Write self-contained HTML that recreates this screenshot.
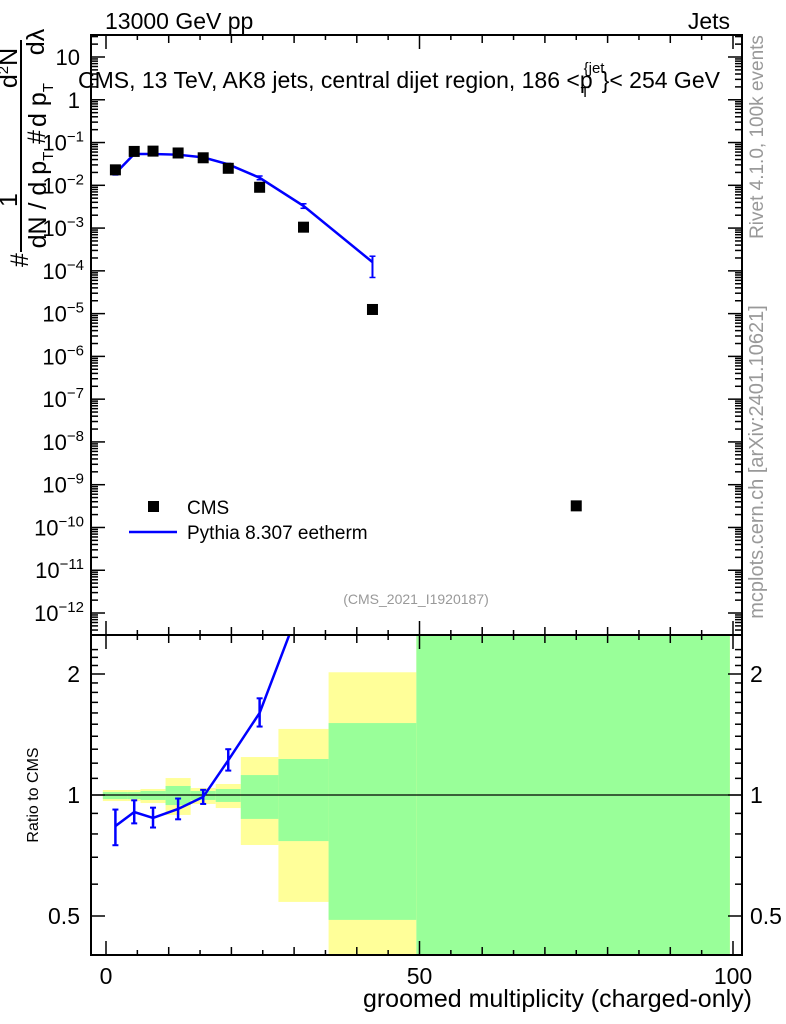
<!DOCTYPE html>
<html><head><meta charset="utf-8"><style>
html,body{margin:0;padding:0;background:#fff;}
svg{display:block;font-family:"Liberation Sans",sans-serif;}
</style></head><body>
<svg id="c" width="786" height="1024" viewBox="0 0 786 1024" xmlns="http://www.w3.org/2000/svg"></svg>
<script>
// ---- data ----
const binEdges = [-0.5, 3.5, 5.5, 9.5, 13.5, 17.5, 21.5, 27.5, 35.5, 49.5, 99.5];
const binCenters = [1.5, 4.5, 7.5, 11.5, 15.5, 19.5, 24.5, 31.5, 42.5, 75];
const cmsValues = [0.023, 0.062, 0.063, 0.057, 0.044, 0.025, 0.009, 0.00105, 1.25e-5, 3.2e-10];
const mcCenters = [1.5, 4.5, 7.5, 11.5, 15.5, 19.5, 24.5, 31.5, 42.5];
const mcValues = [0.019, 0.054, 0.054, 0.052, 0.045, 0.031, 0.015, 0.0033, 1.6e-4];
const mcErrLo = [0.0175, 0.052, 0.052, 0.050, 0.0435, 0.0295, 0.0135, 0.0029, 7e-5];
const mcErrHi = [0.0205, 0.056, 0.056, 0.054, 0.0465, 0.0325, 0.0165, 0.0037, 2.2e-4];
const ratioVals = [0.837, 0.907, 0.877, 0.923, 0.989, 1.22, 1.6, 3.1, 12.8];
const ratioErrLo = [0.75, 0.85, 0.83, 0.87, 0.95, 1.15, 1.48, 2.9, 7];
const ratioErrHi = [0.92, 0.97, 0.93, 0.98, 1.03, 1.30, 1.74, 3.4, 18];
const totLo = [0.966, 0.966, 0.955, 0.892, 0.95, 0.928, 0.751, 0.542, 0.40, 0.3];
const totHi = [1.029, 1.029, 1.035, 1.102, 1.041, 1.065, 1.243, 1.46, 2.02, 3];
const statLo = [0.977, 0.977, 0.972, 0.944, 0.972, 0.961, 0.872, 0.768, 0.489, 0.3];
const statHi = [1.017, 1.017, 1.023, 1.053, 1.023, 1.035, 1.121, 1.229, 1.51, 3];
const topTickExps = [1, 0, -1, -2, -3, -4, -5, -6, -7, -8, -9, -10, -11, -12];
const ratioMajor = [0.5, 1, 2];
const xMajorLabels = [0, 50, 100];

// ---- geometry ----
const L = 91, R = 742, T = 35, M = 635, B = 955;
const sx = v => 106 + v * 6.27;
const sy = v => 57 + (1 - Math.log10(v)) * 42.77;
const ry = v => 795 - Math.log2(v) * 121;
const NS = "http://www.w3.org/2000/svg";
const svg = document.getElementById('c');
function el(tag, attrs, parent) {
  const e = document.createElementNS(NS, tag);
  for (const k in attrs) e.setAttribute(k, attrs[k]);
  (parent || svg).appendChild(e);
  return e;
}
function clip(id, y0, y1) {
  const d = el('defs', {});
  const cp = el('clipPath', {id: id}, d);
  el('rect', {x: L, y: y0, width: R - L, height: y1 - y0}, cp);
}
clip('ct', T, M); clip('cb', M, B);

// ---- ratio bands ----
const gBands = el('g', {'clip-path': 'url(#cb)'});


for (let i = 0; i < binEdges.length - 1; i++) {
  const x0 = sx(binEdges[i]), x1 = sx(binEdges[i + 1]);
  const y = el('rect', {x: x0, y: ry(totHi[i]), width: x1 - x0, height: ry(totLo[i]) - ry(totHi[i]), fill: '#ffff99'}, gBands);
  
  
  const g = el('rect', {x: x0, y: ry(statHi[i]), width: x1 - x0, height: ry(statLo[i]) - ry(statHi[i]), fill: '#99ff99'}, gBands);
  
  
}
el('line', {x1: L, x2: R, y1: ry(1), y2: ry(1), stroke: '#000', 'stroke-width': 1.2});

// ---- ratio MC ----
const gR = el('g', {'clip-path': 'url(#cb)'});


el('polyline', {points: mcCenters.map((c, i) => sx(c) + ',' + ry(ratioVals[i])).join(' '), fill: 'none', stroke: '#0000ff', 'stroke-width': 2.5}, gR);
mcCenters.forEach((c, i) => {
  const x = sx(c);
  el('line', {x1: x, x2: x, y1: ry(ratioErrLo[i]), y2: ry(ratioErrHi[i]), stroke: '#0000ff', 'stroke-width': 2.5}, gR);
  el('line', {x1: x - 3, x2: x + 3, y1: ry(ratioErrLo[i]), y2: ry(ratioErrLo[i]), stroke: '#0000ff', 'stroke-width': 2}, gR);
  el('line', {x1: x - 3, x2: x + 3, y1: ry(ratioErrHi[i]), y2: ry(ratioErrHi[i]), stroke: '#0000ff', 'stroke-width': 2}, gR);
});

// ---- top panel ----
const gT = el('g', {'clip-path': 'url(#ct)'});


el('polyline', {points: mcCenters.map((c, i) => sx(c) + ',' + sy(mcValues[i])).join(' '), fill: 'none', stroke: '#0000ff', 'stroke-width': 2.5}, gT);
mcCenters.forEach((c, i) => {
  const x = sx(c);
  el('line', {x1: x, x2: x, y1: sy(mcErrLo[i]), y2: sy(mcErrHi[i]), stroke: '#0000ff', 'stroke-width': 2}, gT);
  el('line', {x1: x - 3, x2: x + 3, y1: sy(mcErrLo[i]), y2: sy(mcErrLo[i]), stroke: '#0000ff', 'stroke-width': 1.5}, gT);
  el('line', {x1: x - 3, x2: x + 3, y1: sy(mcErrHi[i]), y2: sy(mcErrHi[i]), stroke: '#0000ff', 'stroke-width': 1.5}, gT);
});
const gD = el('g', {});


binCenters.forEach((c, i) => {
  const m = el('rect', {x: sx(c) - 5.5, y: sy(cmsValues[i]) - 5.5, width: 11, height: 11, fill: '#000'}, gD);
  
  
});

// ---- frames ----
el('rect', {x: L, y: T, width: R - L, height: M - T, fill: 'none', stroke: '#000', 'stroke-width': 2});
el('rect', {x: L, y: M, width: R - L, height: B - M, fill: 'none', stroke: '#000', 'stroke-width': 2});

// ---- x ticks ----
const tk = el('g', {stroke: '#000', 'stroke-width': 1.5});
for (let v = 0; v <= 100; v += 5) {
  const x = sx(v);
  const len = v % 50 === 0 ? 14 : (v % 10 === 0 ? 8 : 5);
  [[T, 1], [M, -1], [M, 1], [B, -1]].forEach(([y0, d]) => el('line', {x1: x, x2: x, y1: y0, y2: y0 + d * len}, tk));
}
xMajorLabels.forEach(v => {
  const t = el('text', {x: sx(v), y: 984, 'font-size': 23, 'text-anchor': 'middle'});
  t.textContent = v;
  
  
});

// ---- top y ticks ----
topTickExps.forEach(e => {
  const y = sy(Math.pow(10, e));
  [[L, 1], [R, -1]].forEach(([x0, d]) => {
    el('line', {x1: x0, x2: x0 + d * 14, y1: y, y2: y}, tk);
    for (let k = 2; k <= 9; k++) {
      const yy = sy(k * Math.pow(10, e - 1));
      if (yy > T && yy < M) el('line', {x1: x0, x2: x0 + d * 7, y1: yy, y2: yy}, tk);
    }
  });
  const t = el('text', {x: 80, y: y + 8, 'font-size': 22, 'text-anchor': 'end'});
  
  
  if (e === 1) t.textContent = '10';
  else if (e === 0) t.textContent = '1';
  else {
    t.textContent = '10';
    const s = el('tspan', {'font-size': 15, dy: -9}, t);
    s.textContent = '\u2212' + (-e);
    t.setAttribute('x', 84);
  }
});
for (let k = 2; k <= 3; k++) { const yy = sy(k * 10); if (yy > T) { el('line', {x1: L, x2: L + 7, y1: yy, y2: yy}, tk); el('line', {x1: R, x2: R - 7, y1: yy, y2: yy}, tk); } }

// ---- ratio y ticks ----
for (let v = 0.4; v <= 2.35; v += 0.1) {
  const r = Math.round(v * 10) / 10;
  const y = ry(r);
  if (y < M || y > B) continue;
  const major = ratioMajor.includes(r);
  [[L, 1], [R, -1]].forEach(([x0, d]) => el('line', {x1: x0, x2: x0 + d * (major ? 14 : 7), y1: y, y2: y}, tk));
}
ratioMajor.forEach(r => {
  [[80, 'end'], [750, 'start']].forEach(([x, a]) => {
    const t = el('text', {x: x, y: ry(r) + 8, 'font-size': 23, 'text-anchor': a});
    t.textContent = r;
    
    
  });
});
</script>
<svg width="786" height="1024" style="position:absolute;left:0;top:0" xmlns="http://www.w3.org/2000/svg" font-family="Liberation Sans, sans-serif">
  <text x="105" y="29" font-size="23">13000 GeV pp</text>
  <text x="730" y="29" font-size="23" text-anchor="end">Jets</text>
  <text x="78" y="88" font-size="23">CMS, 13 TeV, AK8 jets, central dijet region, 186 &lt;p<tspan font-size="15" dy="-15" dx="-9">{jet</tspan><tspan font-size="15" dy="24" dx="-24">T</tspan><tspan dy="-9" dx="12">}&lt; 254 GeV</tspan></text>
  <g font-size="25">
    <line x1="21" y1="40" x2="21" y2="252" stroke="#000" stroke-width="2"/>
    <text transform="translate(17,68) rotate(-90)" text-anchor="middle">d<tspan font-size="15" dy="-9">2</tspan><tspan dy="9">N</tspan></text>
    <text transform="translate(17,200) rotate(-90)" text-anchor="middle">1</text>
    <text transform="translate(28,260) rotate(-90)" text-anchor="middle">#</text>
    <text transform="translate(44,42) rotate(-90)" text-anchor="middle">dλ</text>
    <text transform="translate(46,105) rotate(-90)" text-anchor="middle">d p<tspan font-size="15" dy="7">T</tspan></text>
    <text transform="translate(45,137) rotate(-90)" text-anchor="middle">#</text>
    <text transform="translate(46,200) rotate(-90)" text-anchor="middle">dN / d p<tspan font-size="15" dy="7">T</tspan></text>
  </g>
  <text transform="translate(38,795) rotate(-90)" font-size="16" text-anchor="middle">Ratio to CMS</text>
  <text x="752" y="1007" font-size="25" text-anchor="end">groomed multiplicity (charged-only)</text>
  <text x="416" y="604" font-size="14" fill="#999" text-anchor="middle">(CMS_2021_I1920187)</text>
  <text transform="translate(763,137) rotate(-90)" font-size="19" fill="#999" text-anchor="middle">Rivet 4.1.0,  100k events</text>
  <text transform="translate(763,462) rotate(-90)" font-size="20" fill="#999" text-anchor="middle">mcplots.cern.ch [arXiv:2401.10621]</text>
  <g>
    <rect x="148" y="501" width="11" height="11" fill="#000"/>
    <text x="187" y="514" font-size="19">CMS</text>
    <line x1="129" y1="532" x2="177" y2="532" stroke="#0000ff" stroke-width="2.5"/>
    <text x="187" y="539" font-size="19">Pythia 8.307 eetherm</text>
  </g>
</svg>
</body></html>
